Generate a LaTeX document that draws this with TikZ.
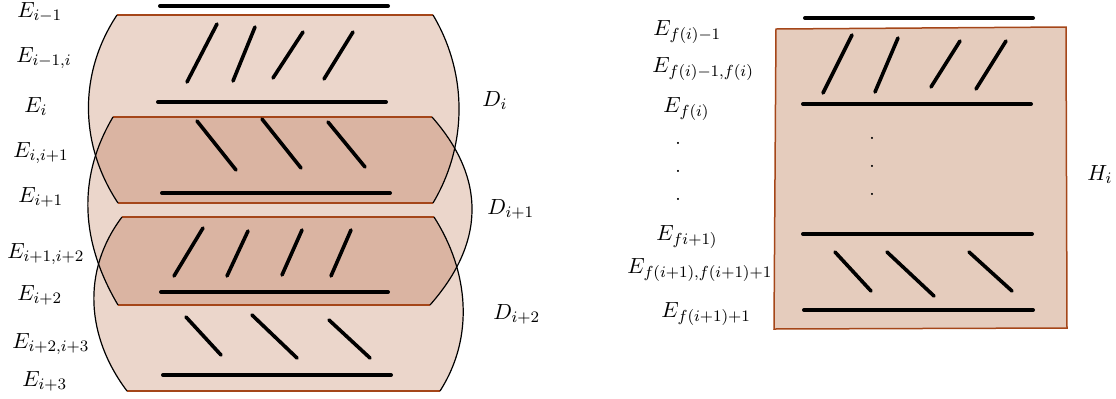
\documentclass[tikz,border=0pt]{standalone}
\usepackage{tikz}
\definecolor{dlight}{RGB}{235,214,203}
\definecolor{ddark}{RGB}{218,180,162}
\definecolor{hfill}{RGB}{229,204,189}
\definecolor{brownline}{RGB}{165,70,25}
\tikzset{
  lbl/.style={inner sep=0pt, anchor=base west, font=\fontsize{11}{13}\selectfont},
  dotlbl/.style={inner sep=0pt, anchor=base, font=\fontsize{11}{13}\selectfont},
  level/.style={line width=2pt, line cap=round},
  slash/.style={line width=1.8pt, line cap=round},
  edge/.style={draw=brownline, line width=0.75pt},
  arcline/.style={draw=black, line width=0.6pt},
}
\newcommand{\pathDa}{(117,15) -- (433,15) .. controls (467.7,73.3) and (467.7,144.7) .. (433,203) -- (118,203) .. controls (79.3,144.7) and (78.3,73.3) .. (117,15) -- cycle}
\newcommand{\pathDb}{(113,117) -- (432,117) .. controls (486.7,179) and (484.7,243) .. (430,305) -- (118,305) .. controls (81.3,243) and (76.3,179) .. (113,117) -- cycle}
\newcommand{\pathDc}{(122,217) -- (434,217) .. controls (468.7,271) and (474.7,337) .. (440,391) -- (127,391) .. controls (86.3,337) and (81.3,271) .. (122,217) -- cycle}
\begin{document}
\begin{tikzpicture}[x=0.5pt,y=-0.5pt]
\useasboundingbox (0,0) rectangle (1116,398);
% ---- left figure: regions D
\fill[dlight] \pathDa;
\fill[dlight] \pathDb;
\fill[dlight] \pathDc;
\begin{scope}
  \clip \pathDb;
  \fill[ddark] \pathDa;
  \fill[ddark] \pathDc;
\end{scope}
% straight edges
\draw[edge] (117,15) -- (433,15);
\draw[edge] (118,203) -- (433,203);
\draw[edge] (113,117) -- (432,117);
\draw[edge] (118,305) -- (430,305);
\draw[edge] (122,217) -- (434,217);
\draw[edge] (127,391) -- (440,391);
% arcs
\draw[arcline] (433,15) .. controls (467.7,73.3) and (467.7,144.7) .. (433,203);
\draw[arcline] (118,203) .. controls (79.3,144.7) and (78.3,73.3) .. (117,15);
\draw[arcline] (432,117) .. controls (486.7,179) and (484.7,243) .. (430,305);
\draw[arcline] (118,305) .. controls (81.3,243) and (76.3,179) .. (113,117);
\draw[arcline] (434,217) .. controls (468.7,271) and (474.7,337) .. (440,391);
\draw[arcline] (127,391) .. controls (86.3,337) and (81.3,271) .. (122,217);
% levels
\draw[level] (160,6) -- (388,6);
\draw[level] (158,102) -- (386,102);
\draw[level] (162,193) -- (390,193);
\draw[level] (161,292) -- (388,292);
\draw[level] (163,375) -- (391,375);
% slashes
\draw[slash] (217,24) -- (187,82);
\draw[slash] (255,27) -- (233,81);
\draw[slash] (303,32) -- (273,78);
\draw[slash] (353,32) -- (324,79);
\draw[slash] (197,121) -- (236,170);
\draw[slash] (262,119) -- (301,168);
\draw[slash] (328,122) -- (365,167);
\draw[slash] (203,228) -- (174,276);
\draw[slash] (248,231) -- (227,276);
\draw[slash] (302,230) -- (282,275);
\draw[slash] (351,230) -- (331,276);
\draw[slash] (186,317) -- (221,355);
\draw[slash] (252,315) -- (297,358);
\draw[slash] (329,320) -- (370,358);
% left labels
\node[lbl] (la) at (17,17) {$E_{i-1}$};
\node[lbl] (lb) at (16,62) {$E_{i-1,i}$};
\node[lbl] (lc) at (24,112) {$E_{i}$};
\node[lbl] (ld) at (13,157) {$E_{i,i+1}$};
\node[lbl] (le) at (18,202) {$E_{i+1}$};
\node[lbl] (lf) at (7,258) {$E_{i+1,i+2}$};
\node[lbl] (lg) at (17,300) {$E_{i+2}$};
\node[lbl] (lh) at (12,348) {$E_{i+2,i+3}$};
\node[lbl] (li) at (22,386) {$E_{i+3}$};
\node[lbl] (da) at (482,106) {$D_{i}$};
\node[lbl] (db) at (487,214) {$D_{i+1}$};
\node[lbl] (dc) at (493,319) {$D_{i+2}$};
% ---- right figure
\filldraw[fill=hfill, draw=brownline, line width=0.75pt] (776,29) -- (1066,27) -- (1067,328) -- (774,329) -- cycle;
\draw[level] (805,18) -- (1033,18);
\draw[level] (803,104) -- (1031,104);
\draw[level] (803,234) -- (1032,234);
\draw[level] (804,310) -- (1033,310);
\draw[slash] (852,35) -- (823,93);
\draw[slash] (898,38) -- (875,92);
\draw[slash] (960,41) -- (931,87);
\draw[slash] (1006,41) -- (976,89);
\draw[slash] (835,252) -- (871,291);
\draw[slash] (887,252) -- (934,296);
\draw[slash] (969,252) -- (1012,291);
\node[dotlbl] (ia) at (872,139) {.};
\node[dotlbl] (ib) at (872,167) {.};
\node[dotlbl] (ic) at (872,195) {.};
\node[dotlbl] (oa) at (678,144) {.};
\node[dotlbl] (ob) at (678,172) {.};
\node[dotlbl] (oc) at (678,200) {.};
\node[lbl] (ra) at (653,35) {$E_{f(i)-1}$};
\node[lbl] (rb) at (652,72) {$E_{f(i)-1,f(i)}$};
\node[lbl] (rc) at (663,112) {$E_{f(i)}$};
\node[lbl] (rd) at (656,240) {$E_{fi+1)}$};
\node[lbl] (re) at (627,273) {$E_{f(i+1),f(i+1)+1}$};
\node[lbl] (rf) at (661,317) {$E_{f(i+1)+1}$};
\node[lbl] (hi) at (1087,180) {$H_{i}$};
\end{tikzpicture}
\end{document}
